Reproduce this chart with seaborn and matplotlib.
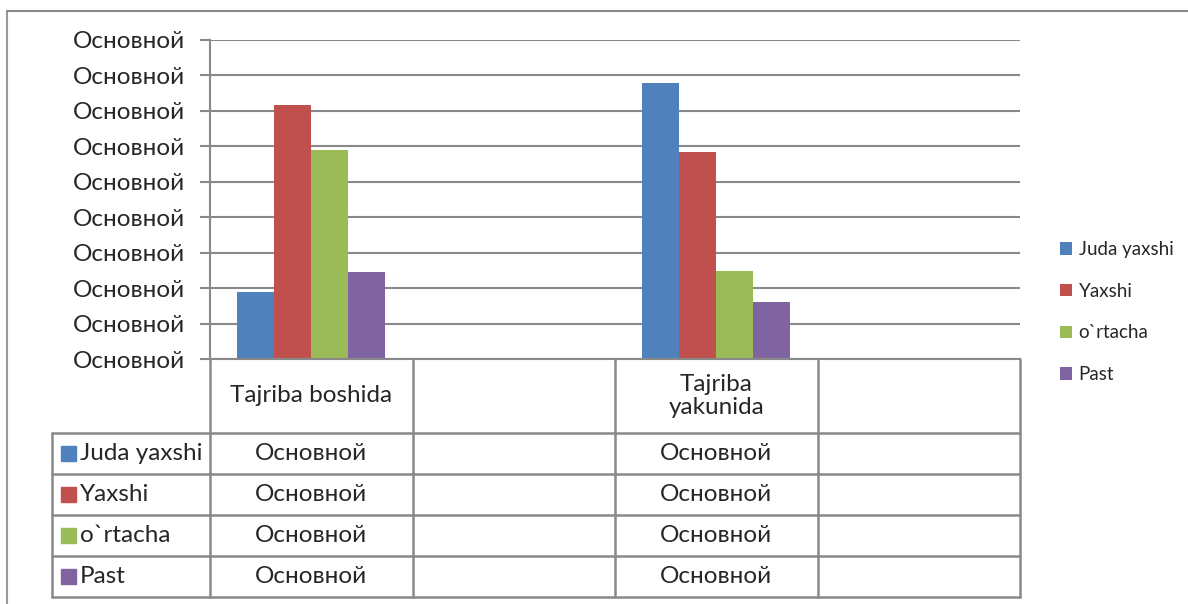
import matplotlib
matplotlib.use("Agg")
import numpy as np
import pandas as pd
import matplotlib.pyplot as plt
import seaborn as sns
from matplotlib.lines import Line2D
from matplotlib.patches import Rectangle

# ── data ─────────────────────────────────────────────────────────────────────
categories = ["Tajriba boshida", " ", "Tajriba yakunida", "  "]
cat_labels = ["Tajriba boshida", "", "Tajriba\nyakunida", ""]
series = ["Juda yaxshi", "Yaxshi", "o`rtacha", "Past"]
values_boshida = [9.5, 35.8, 29.5, 12.3]
values_yakunida = [39.0, 29.2, 12.4, 8.0]
y_ticks = [0, 5, 10, 15, 20, 25, 30, 35, 40, 45]
tick_text = "Основной"
colors = ["#4F81BD", "#C0504D", "#9BBB59", "#8064A2"]

df = pd.DataFrame({
    "category": [categories[0]] * 4 + [categories[2]] * 4,
    "series": series * 2,
    "value": values_boshida + values_yakunida,
})

sns.set_style("white")
plt.rcParams["font.family"] = ["Lato", "DejaVu Sans"]

W, H = 1188, 604
FS = 17.5
fig = plt.figure(figsize=(W / 100, H / 100), dpi=100)
GRAY = "#898989"


def fx(px):
    return px / W


def fy(py):
    return 1 - py / H


# outer chart border (only top/left visible)
fig.add_artist(Line2D([fx(7), fx(7)], [fy(11), 0], color="#9a9a9a", lw=1.5))
fig.add_artist(Line2D([fx(7), 1], [fy(11), fy(11)], color="#8a8a8a", lw=1.5))

# ── bar chart ────────────────────────────────────────────────────────────────
ax = fig.add_axes([fx(210), fy(359), fx(1020) - fx(210), fy(40) - fy(359)])
sns.barplot(data=df, x="category", y="value", hue="series", order=categories,
            hue_order=series, palette=colors, width=0.73, gap=0,
            saturation=1, ax=ax, legend=True, edgecolor="none")
ax.set_xlim(-0.5, 3.5)
ax.set_ylim(0, 45)
ax.set_yticks(y_ticks)
ax.set_yticklabels([tick_text] * len(y_ticks), fontsize=FS)
ax.set_xticks([])
ax.set_xlabel("")
ax.set_ylabel("")
ax.yaxis.grid(True, color=GRAY, lw=1.5)
ax.set_axisbelow(True)
ax.tick_params(axis="y", length=7, width=1.5, color=GRAY, pad=11, left=True)
for s in ["top", "right"]:
    ax.spines[s].set_visible(False)
for s in ["left", "bottom"]:
    ax.spines[s].set_color(GRAY)
    ax.spines[s].set_linewidth(1.5)

leg = ax.legend(loc="center left", bbox_to_anchor=(fx(1043), fy(312)),
                bbox_transform=fig.transFigure, frameon=False, fontsize=13.5,
                handlelength=0.65, handleheight=0.65, handletextpad=0.35,
                labelspacing=1.32)

# ── data table ───────────────────────────────────────────────────────────────
tax = fig.add_axes([fx(52), fy(597), fx(1020) - fx(52), fy(359) - fy(597)])
x_left = -0.5 - (210 - 52) / 202.5
tax.set_xlim(x_left, 3.5)
tax.set_ylim(597, 359)
tax.axis("off")

row_edges = [433, 474, 515, 556, 597]
col_edges = [-0.5, 0.5, 1.5, 2.5, 3.5]
for xe in col_edges:
    tax.plot([xe, xe], [359, 597], color=GRAY, lw=1.8, clip_on=False)
tax.plot([x_left, x_left], [433, 597], color=GRAY, lw=1.8, clip_on=False)
for ye in row_edges:
    tax.plot([x_left, 3.5], [ye, ye], color=GRAY, lw=1.8, clip_on=False)

for i, lab in enumerate(cat_labels):
    if lab:
        tax.text(i, 396, lab, ha="center", va="center", fontsize=FS,
                 linespacing=1.15)

sq = 15 / 202.5
for r, name in enumerate(series):
    yc = (row_edges[r] + row_edges[r + 1]) / 2
    tax.add_patch(Rectangle((x_left + 9 / 202.5, yc - 7.5), sq, 15,
                            color=colors[r], clip_on=False))
    tax.text(x_left + 28 / 202.5, yc, name, ha="left", va="center", fontsize=FS)
    for c in (0, 2):
        tax.text(c, yc, tick_text, ha="center", va="center", fontsize=FS)

fig.savefig("out.png", dpi=100)
